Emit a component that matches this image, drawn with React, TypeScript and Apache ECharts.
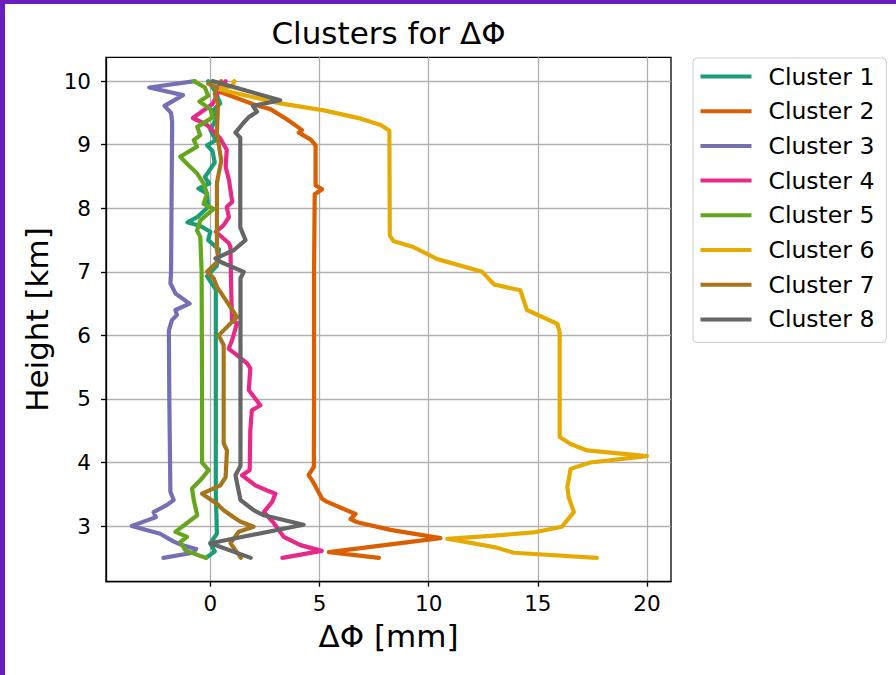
import React, { useEffect, useRef } from "react";
import * as echarts from "echarts";

const clusterNames = ["Cluster 1", "Cluster 2", "Cluster 3", "Cluster 4", "Cluster 5", "Cluster 6", "Cluster 7", "Cluster 8"];
const clusterColors = ["#1b9e77", "#d95f02", "#7570b3", "#e7298a", "#66a61e", "#e6ab02", "#a6761d", "#666666"];

const xTicks = [0, 5, 10, 15, 20];
const yTicks = [3, 4, 5, 6, 7, 8, 9, 10];

// [ΔΦ (mm), height (km)]
const cluster1 = [
  [-0.1, 10.0], [0.2, 9.85], [0.45, 9.65], [0.15, 9.55], [0.25, 9.4], [0.0, 9.23], [0.25, 9.07], [-0.15, 8.99],
  [0.1, 8.9], [0.2, 8.72], [-0.25, 8.49], [-0.05, 8.39], [-0.55, 8.31], [-0.15, 8.23], [-0.1, 8.02], [-0.6, 7.86],
  [-1.05, 7.78], [-0.45, 7.72], [0.0, 7.63], [-0.1, 7.5], [0.4, 7.35], [0.3, 7.1], [-0.15, 6.93], [0.25, 6.72],
  [0.25, 5.0], [0.25, 3.5], [0.3, 2.88], [0.0, 2.73], [0.2, 2.6], [-0.2, 2.5],
];
const cluster2 = [
  [0.5, 10.0], [0.3, 9.85], [2.1, 9.62], [2.75, 9.56], [3.5, 9.4], [4.0, 9.28], [4.2, 9.23], [4.05, 9.19],
  [4.6, 9.08], [4.82, 8.99], [4.82, 8.36], [5.12, 8.3], [4.78, 8.22], [4.75, 7.0], [4.75, 5.0], [4.74, 3.93],
  [4.5, 3.8], [4.66, 3.72], [5.12, 3.43], [5.35, 3.38], [6.65, 3.19], [6.42, 3.11], [6.73, 3.06], [8.25, 2.94],
  [10.54, 2.81], [5.43, 2.59], [7.72, 2.5],
];
const cluster3 = [
  [-0.7, 10.0], [-2.8, 9.9], [-1.25, 9.78], [-2.1, 9.61], [-1.8, 9.5], [-1.75, 9.36], [-1.8, 7.0], [-1.83, 6.82],
  [-1.6, 6.66], [-0.95, 6.5], [-1.6, 6.4], [-1.53, 6.32], [-1.76, 6.24], [-1.9, 6.08], [-1.88, 5.0], [-1.83, 3.54],
  [-1.68, 3.41], [-2.0, 3.33], [-2.6, 3.22], [-2.5, 3.14], [-2.9, 3.09], [-3.6, 3.0], [-2.3, 2.88], [-1.7, 2.76],
  [-1.3, 2.7], [-0.65, 2.64], [-0.8, 2.58], [-2.15, 2.5],
];
const cluster4 = [
  [0.7, 10.0], [0.4, 9.85], [0.1, 9.64], [-0.8, 9.42], [-0.15, 9.31], [0.45, 9.1], [0.75, 8.92], [0.7, 8.65],
  [0.85, 8.45], [1.0, 8.1], [0.75, 8.02], [0.85, 7.86], [0.6, 7.73], [0.25, 7.63], [0.85, 7.45], [0.92, 7.39],
  [0.95, 6.8], [0.99, 6.24], [1.22, 6.19], [0.99, 5.92], [0.84, 5.79], [1.22, 5.69], [1.68, 5.56], [1.83, 5.48],
  [1.76, 5.14], [2.29, 4.9], [1.9, 4.82], [1.83, 4.5], [1.8, 3.88], [1.45, 3.8], [2.06, 3.64], [2.6, 3.56],
  [2.98, 3.51], [2.83, 3.38], [2.45, 3.22], [2.9, 3.05], [3.36, 2.83], [4.13, 2.7], [5.1, 2.61], [3.3, 2.5],
];
const cluster5 = [
  [-0.75, 10.0], [-0.25, 9.9], [-0.1, 9.77], [-0.5, 9.68], [0.0, 9.56], [0.1, 9.43], [-0.6, 9.28], [-0.46, 9.15],
  [-0.76, 9.07], [-0.61, 8.97], [-1.38, 8.81], [-1.07, 8.7], [-0.61, 8.55], [-0.31, 8.39], [-0.15, 8.23], [-0.31, 8.07],
  [0.15, 7.99], [-0.46, 7.81], [-0.61, 7.65], [-0.46, 7.55], [-0.4, 7.0], [-0.38, 5.0], [-0.38, 4.0], [-0.08, 3.88],
  [-0.46, 3.72], [-0.84, 3.59], [-0.76, 3.41], [-0.6, 3.17], [-1.6, 2.91], [-1.07, 2.83], [-1.37, 2.75], [-1.15, 2.62],
  [-0.38, 2.52], [-0.2, 2.5],
];
const cluster6 = [
  [1.1, 10.0], [1.0, 9.92], [0.3, 9.88], [3.2, 9.65], [5.2, 9.54], [6.9, 9.41], [7.8, 9.31], [8.2, 9.22],
  [8.22, 7.57], [8.4, 7.48], [9.3, 7.39], [10.4, 7.2], [12.45, 7.0], [13.0, 6.8], [14.2, 6.71], [14.4, 6.5],
  [14.5, 6.4], [15.9, 6.18], [16.0, 6.05], [16.0, 4.4], [16.5, 4.29], [17.26, 4.19], [20.0, 4.1], [17.4, 4.0],
  [16.5, 3.9], [16.35, 3.61], [16.42, 3.45], [16.65, 3.22], [16.1, 2.99], [14.8, 2.9], [13.0, 2.85], [10.85, 2.8],
  [13.0, 2.67], [13.9, 2.58], [17.7, 2.5],
];
const cluster7 = [
  [-0.1, 9.96], [0.3, 9.9], [0.2, 9.8], [0.35, 9.64], [0.3, 9.18], [0.5, 8.75], [0.3, 8.4], [0.3, 7.35],
  [0.38, 7.18], [-0.15, 7.0], [0.15, 6.9], [0.31, 6.76], [1.22, 6.29], [0.38, 6.0], [0.61, 5.85], [0.61, 4.3],
  [0.76, 4.19], [0.7, 3.77], [0.46, 3.64], [-0.38, 3.51], [0.3, 3.35], [0.61, 3.25], [1.07, 3.14], [1.38, 3.07],
  [1.98, 2.99], [1.3, 2.91], [0.92, 2.73], [1.4, 2.5],
];
const cluster8 = [
  [0.1, 10.0], [3.2, 9.7], [1.95, 9.61], [2.14, 9.52], [1.75, 9.43], [1.53, 9.35], [1.15, 9.19], [1.37, 9.11],
  [1.37, 7.7], [1.61, 7.5], [1.07, 7.34], [0.23, 7.21], [0.5, 7.15], [1.53, 7.0], [1.38, 6.9], [1.38, 3.95],
  [1.15, 3.8], [1.38, 3.41], [1.98, 3.25], [2.45, 3.17], [4.27, 3.02], [0.0, 2.73], [1.85, 2.5],
];
const clusterData = [cluster1, cluster2, cluster3, cluster4, cluster5, cluster6, cluster7, cluster8];

const FONT = "DejaVu Sans";

export default function App() {
  const ref = useRef<HTMLDivElement>(null);
  useEffect(() => {
    if (!ref.current) return;
    const chart = echarts.init(ref.current, null, { renderer: "svg" });
    const grid = { left: 106, top: 57.3, width: 565, height: 524.4 };
    chart.setOption({
      animation: false,
      backgroundColor: "#ffffff",
      textStyle: { fontFamily: FONT },
      grid: { ...grid, show: true, borderColor: "#000", borderWidth: 1.3, backgroundColor: "transparent", containLabel: false },
      graphic: [
        { type: "rect", shape: { x: 0, y: 0, width: 896, height: 4 }, style: { fill: "#6a1ec0" } },
        { type: "rect", shape: { x: 0, y: 0, width: 5, height: 675 }, style: { fill: "#6a1ec0" } },
        {
          type: "text",
          x: grid.left + grid.width / 2,
          y: 32.5,
          style: { text: "Clusters for ΔΦ", fontSize: 31, fontFamily: FONT, fill: "#000", align: "center", verticalAlign: "middle" },
        },
      ],
      legend: {
        orient: "vertical",
        left: 693,
        top: 58,
        padding: [6.5, 12, 11, 7.5],
        itemGap: 10.7,
        itemWidth: 51,
        itemHeight: 4,
        icon: "rect",
        backgroundColor: "rgba(255,255,255,0.85)",
        borderColor: "#cccccc",
        borderWidth: 1,
        borderRadius: 4,
        textStyle: { fontSize: 23.5, fontFamily: FONT, color: "#000", padding: [0, 0, 0, 12] },
        data: clusterNames,
      },
      xAxis: {
        type: "value",
        min: -4.78,
        max: 21.1,
        minInterval: 5,
        maxInterval: 5,
        name: "ΔΦ [mm]",
        nameLocation: "middle",
        nameGap: 39,
        nameTextStyle: { fontSize: 31, fontFamily: FONT, color: "#000", verticalAlign: "top" },
        axisLine: { show: true, onZero: false, lineStyle: { color: "#000", width: 1.3 } },
        axisTick: { show: true, length: 5, customValues: xTicks, lineStyle: { color: "#000", width: 1.3 } },
        axisLabel: { customValues: xTicks, fontSize: 21.5, fontFamily: FONT, color: "#000", margin: 11 },
        splitLine: { show: true, lineStyle: { color: "#b0b0b0", width: 1.3 } },
      },
      yAxis: {
        type: "value",
        min: 2.125,
        max: 10.375,
        minInterval: 1,
        maxInterval: 1,
        name: "Height [km]",
        nameLocation: "middle",
        nameGap: 52,
        nameTextStyle: { fontSize: 31, fontFamily: FONT, color: "#000" },
        axisLine: { show: true, onZero: false, lineStyle: { color: "#000", width: 1.3 } },
        axisTick: { show: true, length: 5, customValues: yTicks, lineStyle: { color: "#000", width: 1.3 } },
        axisLabel: { customValues: yTicks, fontSize: 21.5, fontFamily: FONT, color: "#000", margin: 15 },
        splitLine: { show: true, lineStyle: { color: "#b0b0b0", width: 1.3 } },
      },
      series: clusterNames.map((name, i) => ({
        name,
        type: "line",
        data: clusterData[i],
        showSymbol: false,
        symbol: "none",
        clip: true,
        color: clusterColors[i],
        itemStyle: { color: clusterColors[i] },
        lineStyle: { color: clusterColors[i], width: 4.2, join: "round", cap: "round" },
        emphasis: { disabled: true },
      })),
    });
    return () => chart.dispose();
  }, []);
  return <div ref={ref} style={{ position: "fixed", left: 0, top: 0, width: 896, height: 675 }} />;
}
